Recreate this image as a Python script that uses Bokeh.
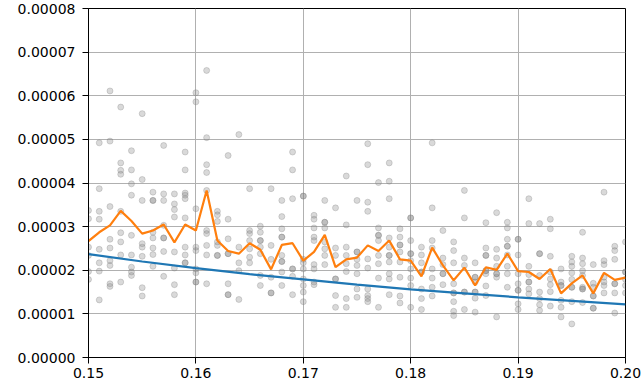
from bokeh.plotting import figure
from bokeh.models import FixedTicker, PrintfTickFormatter, Range1d
from bokeh.embed import file_html
from bokeh.resources import INLINE

Y_UNIT = 1e-5

x_steps = [0.150, 0.151, 0.152, 0.153, 0.154, 0.155, 0.156, 0.157, 0.158, 0.159,
           0.160, 0.161, 0.162, 0.163, 0.164, 0.165, 0.166, 0.167, 0.168, 0.169,
           0.170, 0.171, 0.172, 0.173, 0.174, 0.175, 0.176, 0.177, 0.178, 0.179,
           0.180, 0.181, 0.182, 0.183, 0.184, 0.185, 0.186, 0.187, 0.188, 0.189,
           0.190, 0.191, 0.192, 0.193, 0.194, 0.195, 0.196, 0.197, 0.198, 0.199,
           0.200]

# scatter samples per x step (units of 1e-5)
scatter_cols = [
    [3.37, 3.18, 2.53, 2.34, 1.97, 1.79],
    [4.92, 3.87, 3.35, 3.17, 2.48, 2.17, 1.98, 1.32],
    [6.11, 4.96, 3.46, 2.71, 2.51, 2.22, 2.11, 1.69, 1.63],
    [5.74, 4.46, 4.29, 4.20, 3.35, 2.86, 2.65, 2.35, 1.73],
    [4.74, 4.30, 3.98, 3.72, 2.80, 2.35, 2.07, 1.96, 1.88],
    [5.59, 4.08, 3.60, 2.61, 2.53, 2.32, 1.60, 1.41],
    [3.79, 3.60, 3.60, 2.87, 2.74, 2.51, 2.36, 2.09],
    [4.86, 3.75, 3.60, 3.03, 2.74, 2.74, 2.43, 1.86],
    [3.75, 3.52, 3.39, 3.22, 2.42, 2.05, 1.67, 1.44],
    [4.71, 4.30, 3.77, 3.72, 3.64, 3.20, 2.53, 2.35, 2.17, 2.17],
    [6.07, 5.86, 3.41, 2.53, 2.45, 2.03, 1.94, 1.73, 1.73],
    [6.58, 5.04, 4.42, 4.24, 3.83, 2.91, 2.84, 2.57, 2.35, 1.69],
    [3.35, 3.27, 3.12, 2.65, 2.57, 2.34, 2.34],
    [4.63, 3.17, 2.72, 2.38, 2.38, 1.69, 1.44, 1.44],
    [5.11, 2.53, 2.17, 1.99, 1.33],
    [3.87, 2.91, 2.84, 2.68, 2.49, 2.30, 2.17],
    [3.01, 2.87, 2.68, 2.68, 2.53, 2.38, 1.88, 1.65],
    [3.87, 2.57, 2.25, 1.84, 1.48, 1.48],
    [3.60, 3.23, 2.95, 2.76, 2.76, 2.34, 2.20, 2.20, 1.96, 1.65],
    [4.71, 4.30, 3.64, 2.03, 2.03, 1.86, 1.44],
    [3.70, 3.70, 2.25, 2.17, 2.03, 1.80, 1.65, 1.50, 1.28],
    [3.26, 3.17, 2.97, 2.76, 2.68, 2.13, 2.03, 1.73, 1.67],
    [3.60, 3.10, 3.10, 2.97, 2.65, 2.49, 2.34, 2.13],
    [3.43, 2.51, 2.34, 1.80, 1.80, 1.42, 1.15],
    [4.16, 3.04, 2.53, 2.34, 2.15, 1.97, 1.35, 1.15],
    [3.60, 2.42, 2.42, 2.25, 2.11, 1.92, 1.57, 1.38],
    [4.90, 4.42, 3.56, 3.35, 2.26, 2.05, 1.57, 1.42, 1.35, 1.28],
    [4.01, 2.97, 2.80, 2.80, 2.68, 2.34, 2.15, 1.82, 1.15],
    [4.46, 4.04, 3.64, 2.74, 2.53, 2.34, 2.34, 2.19, 1.92, 1.80, 1.44],
    [2.95, 2.76, 2.58, 2.58, 2.42, 2.19, 1.84, 1.41, 1.25],
    [3.20, 3.20, 2.68, 2.38, 2.38, 2.22, 2.03, 1.82, 1.65, 1.15],
    [2.53, 2.35, 2.17, 1.96, 1.96, 1.57, 1.35, 1.10],
    [4.92, 3.43, 2.68, 2.51, 2.03, 1.82, 1.61, 1.41],
    [2.91, 2.28, 2.13, 1.92, 1.92, 1.67],
    [2.65, 2.45, 2.17, 1.69, 1.48, 1.48, 1.28, 1.06, 0.96],
    [3.83, 3.20, 2.28, 2.11, 1.50, 1.50, 1.10],
    [2.17, 1.84, 1.84, 1.73, 1.50, 1.50, 1.36, 1.04],
    [3.09, 2.51, 2.34, 2.34, 1.99, 1.99, 1.92, 1.64, 1.42],
    [3.32, 2.48, 2.28, 2.09, 1.92, 1.92, 1.84, 0.93],
    [3.10, 2.97, 2.71, 2.55, 2.55, 2.35, 2.09, 1.92, 1.61],
    [2.71, 2.71, 2.35, 1.92, 1.69, 1.54, 1.54, 1.23, 1.10],
    [3.64, 3.07, 2.09, 1.90, 1.73, 1.73, 1.57, 1.46],
    [3.07, 2.38, 2.38, 1.88, 1.50, 1.35, 1.21, 1.08],
    [3.17, 2.95, 2.32, 1.96, 1.80, 1.67, 1.51, 1.18],
    [2.03, 1.73, 1.65, 1.65, 1.31, 1.15, 0.93],
    [2.32, 2.19, 2.09, 1.94, 1.79, 1.61, 1.61, 1.28, 0.77],
    [2.87, 2.28, 2.15, 1.99, 1.88, 1.61, 1.57, 1.57, 1.26],
    [2.13, 1.70, 1.61, 1.41, 1.41, 1.13, 1.13],
    [3.79, 2.22, 2.13, 1.84, 1.73, 1.65, 1.48],
    [2.55, 2.45, 2.25, 1.69, 1.69, 1.48, 1.02],
    [2.65, 1.96, 1.96, 1.79, 1.65, 1.48],
]

mean_y = [2.67, 2.87, 3.03, 3.36, 3.13, 2.84, 2.91, 3.05, 2.64, 3.05,
          2.91, 3.83, 2.68, 2.44, 2.38, 2.62, 2.47, 2.02, 2.58, 2.62,
          2.22, 2.42, 2.81, 2.07, 2.25, 2.29, 2.57, 2.44, 2.68, 2.25,
          2.22, 1.86, 2.52, 2.11, 1.77, 2.06, 1.65, 2.07, 2.01, 2.38,
          1.98, 1.96, 1.80, 2.03, 1.47, 1.70, 1.88, 1.47, 1.94, 1.78,
          1.83]

fit_x = [0.150, 0.155, 0.160, 0.165, 0.170, 0.175, 0.180, 0.185, 0.190, 0.195, 0.200]
fit_y = [2.37, 2.20, 2.05, 1.91, 1.79, 1.67, 1.56, 1.47, 1.38, 1.30, 1.22]

x_ticks = [0.15, 0.16, 0.17, 0.18, 0.19, 0.20]
y_ticks = [0.0, 1e-5, 2e-5, 3e-5, 4e-5, 5e-5, 6e-5, 7e-5, 8e-5]

sx, sy = [], []
for xv, col in zip(x_steps, scatter_cols):
    for v in col:
        sx.append(xv)
        sy.append(v * Y_UNIT)

p = figure(width=641, height=387, output_backend="svg", toolbar_location=None,
           x_range=Range1d(0.15, 0.20), y_range=Range1d(0, 8e-5),
           min_border_left=88, min_border_right=16, min_border_top=8,
           min_border_bottom=30)

p.scatter(sx, sy, size=6, fill_color="gray", line_color="gray",
          fill_alpha=0.3, line_alpha=0.3)
p.line(fit_x, [v * Y_UNIT for v in fit_y], line_color="#1f77b4", line_width=2.2)
p.line(x_steps, [v * Y_UNIT for v in mean_y], line_color="#ff7f0e", line_width=2.2)

p.xaxis.ticker = FixedTicker(ticks=x_ticks)
p.yaxis.ticker = FixedTicker(ticks=y_ticks)
p.xaxis.formatter = PrintfTickFormatter(format="%.2f")
p.yaxis.formatter = PrintfTickFormatter(format="%.5f")

for ax in (p.xaxis, p.yaxis):
    ax.axis_line_color = "black"
    ax.major_tick_line_color = "black"
    ax.major_tick_out = 6
    ax.major_tick_in = 0
    ax.minor_tick_line_color = None
    ax.major_label_text_font = "DejaVu Sans"
    ax.major_label_text_font_size = "14px"
    ax.major_label_text_color = "black"
p.xaxis.major_label_standoff = 4
p.yaxis.major_label_standoff = 7

p.xgrid.grid_line_color = "#b0b0b0"
p.ygrid.grid_line_color = "#b0b0b0"
p.xgrid.grid_line_width = 1
p.ygrid.grid_line_width = 1
p.outline_line_color = "black"
p.outline_line_alpha = 1
p.outline_line_width = 1
p.background_fill_color = "white"
p.border_fill_color = "white"

open("out.html", "w").write(file_html(p, INLINE))
